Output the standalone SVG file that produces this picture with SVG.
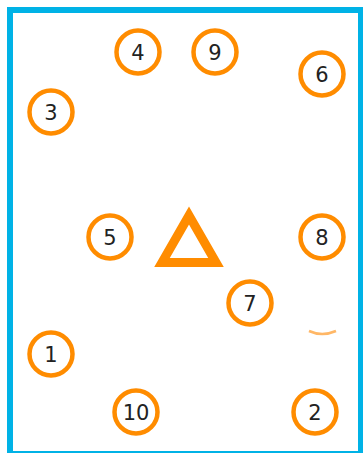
<svg xmlns="http://www.w3.org/2000/svg" width="363" height="453" viewBox="0 0 363 453">
<style>
.ring{fill:#fff;stroke:#ff8c00;stroke-width:4.5}
.lbl{font-family:"DejaVu Sans","Liberation Sans",sans-serif;font-size:21px;fill:#222;text-anchor:middle;dominant-baseline:central}
</style>
<rect x="0" y="0" width="363" height="453" fill="#fff"/>
<rect id="frame" x="10" y="10" width="351" height="444" fill="none" stroke="#00b2e6" stroke-width="6"/>
<g id="connectors"></g>
<g id="triangle"><polygon points="189,215.5 162,262.5 216,262.5" fill="none" stroke="#ff8c00" stroke-width="9" stroke-linejoin="miter"/></g>
<g id="n4"><circle class="ring" cx="138" cy="52" r="21.5"/><text class="lbl" x="138" y="53">4</text></g>
<g id="n9"><circle class="ring" cx="215" cy="52" r="21.5"/><text class="lbl" x="215" y="53">9</text></g>
<g id="n6"><circle class="ring" cx="322" cy="74" r="21.5"/><text class="lbl" x="322" y="75">6</text></g>
<g id="n3"><circle class="ring" cx="51" cy="112" r="21.5"/><text class="lbl" x="51" y="113">3</text></g>
<g id="n5"><circle class="ring" cx="110" cy="237" r="21.5"/><text class="lbl" x="110" y="238">5</text></g>
<g id="n8"><circle class="ring" cx="322" cy="237" r="21.5"/><text class="lbl" x="322" y="238">8</text></g>
<g id="n7"><circle class="ring" cx="250" cy="303" r="21.5"/><text class="lbl" x="250" y="304">7</text></g>
<g id="arc"><path d="M309,331 Q322,337 336,331" fill="none" stroke="#ffb766" stroke-width="2.5"/></g>
<g id="n1"><circle class="ring" cx="51" cy="354" r="21.5"/><text class="lbl" x="51" y="355">1</text></g>
<g id="n10"><circle class="ring" cx="136" cy="412" r="21.5"/><text class="lbl" x="136" y="413">10</text></g>
<g id="n2"><circle class="ring" cx="315" cy="412" r="21.5"/><text class="lbl" x="315" y="413">2</text></g>
</svg>
